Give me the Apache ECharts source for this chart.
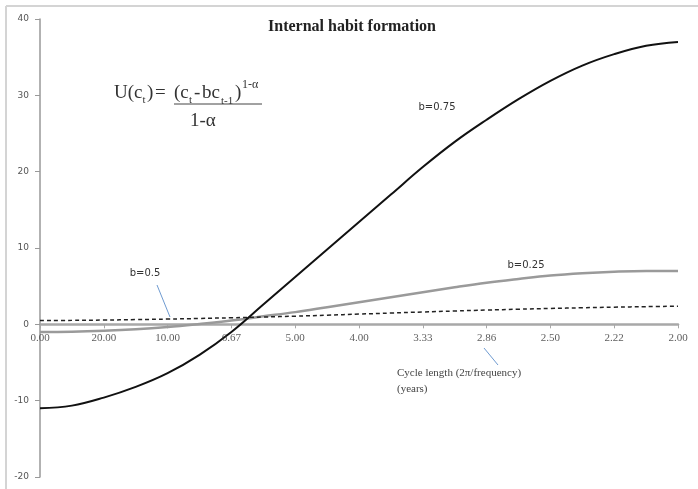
<!DOCTYPE html>
<html>
<head>
<meta charset="utf-8">
<script src="https://cdn.jsdelivr.net/npm/echarts@6/dist/echarts.min.js"></script>
<style>html,body{margin:0;padding:0;background:#fff;}#c{width:698px;height:489px;}</style>
</head>
<body>
<div id="c"></div>
<script>
// x positions: frequency in units of pi/10 (0..10)
var freqIndex = [0,0.5,1,1.5,2,2.5,3,3.5,4,4.5,5,5.5,6,6.5,7,7.5,8,8.5,9,9.5,10];
var tickLabels = ['0.00','20.00','10.00','6.67','5.00','4.00','3.33','2.86','2.50','2.22','2.00'];
var b075 = [-11.0,-10.65,-9.6,-8.2,-6.4,-4.0,-1.0,2.6,6.2,9.8,13.4,17.0,20.6,23.9,26.8,29.5,31.9,33.9,35.4,36.5,37.0];
var b025 = [-1.0,-0.97,-0.85,-0.65,-0.35,0.05,0.5,1.05,1.6,2.25,2.9,3.55,4.2,4.85,5.45,5.95,6.4,6.7,6.9,7.0,7.0];
var b05  = [0.5,0.52,0.56,0.62,0.69,0.77,0.86,0.96,1.07,1.2,1.34,1.48,1.62,1.75,1.87,1.98,2.08,2.17,2.25,2.32,2.38];

function pairs(ys){ return freqIndex.map(function(x,i){ return [x, ys[i]]; }); }

var serif = '"Liberation Serif", "DejaVu Serif", serif';
var sans = '"DejaVu Sans", sans-serif';
var lead = '#6f9bd1';
var ink = '#333';

function t(x, y, s, size, extra){
  var st = { text: s, font: size + 'px ' + serif, fill: ink, textVerticalAlign: 'middle' };
  if (extra) for (var k in extra) st[k] = extra[k];
  return { type: 'text', x: x, y: y, style: st };
}

var chart = echarts.init(document.getElementById('c'));
chart.setOption({
  animation: false,
  backgroundColor: '#fff',
  grid: { left: 40, right: 20, top: 19, bottom: 12, containLabel: false },
  xAxis: {
    type: 'value', min: 0, max: 10, interval: 1,
    axisLine: { onZero: true, lineStyle: { color: '#a8a8a8', width: 2.5 } },
    axisTick: { show: true, length: 4, lineStyle: { color: '#a8a8a8', width: 1 } },
    axisLabel: { show: false },
    splitLine: { show: false }
  },
  yAxis: {
    type: 'value', min: -20, max: 40, interval: 10,
    axisLine: { show: true, lineStyle: { color: '#999', width: 1.5 } },
    axisTick: { show: true, length: 5, lineStyle: { color: '#999' } },
    axisLabel: { margin: 11, color: '#555', fontFamily: sans, fontSize: 9 },
    splitLine: { show: false }
  },
  series: [
    { name: 'b=0.75', type: 'line', data: pairs(b075), smooth: 0.4, symbol: 'none',
      lineStyle: { color: '#111', width: 2 }, z: 5 },
    { name: 'b=0.25', type: 'line', data: pairs(b025), smooth: 0.4, symbol: 'none',
      lineStyle: { color: '#9a9a9a', width: 2.5 }, z: 3 },
    { name: 'b=0.5', type: 'line', data: pairs(b05), smooth: 0.4, symbol: 'none',
      lineStyle: { color: '#222', width: 1.5, type: [4, 3] }, z: 4 },
    { name: 'ticks', type: 'scatter', silent: true, symbolSize: 1,
      itemStyle: { color: 'rgba(0,0,0,0)' },
      data: tickLabels.map(function(s, i){ return [i, 0, s]; }),
      label: { show: true, position: 'bottom', distance: 8, color: ink, fontFamily: serif, fontSize: 11,
        formatter: function(p){ return p.value[2]; } }, labelLayout: { hideOverlap: false }, z: 6 }
  ],
  graphic: [
    { type: 'line', shape: { x1: 6, y1: 6, x2: 698, y2: 6 }, style: { stroke: '#d4d4d4', lineWidth: 2 } },
    { type: 'line', shape: { x1: 6, y1: 6, x2: 6, y2: 489 }, style: { stroke: '#d4d4d4', lineWidth: 2 } },
    { type: 'text', x: 352, y: 27, style: { text: 'Internal habit formation', font: 'bold 16px ' + serif, fill: '#222', textAlign: 'center', textVerticalAlign: 'middle' } },
    // formula
    t(114, 93, 'U(c', 19),
    t(142.5, 100, 't', 11),
    t(147, 93, ')', 19),
    t(155, 93, '=', 19),
    t(174, 93, '(c', 19),
    t(189, 100, 't', 11),
    t(194, 93, '-', 19),
    t(202, 93, 'bc', 19),
    t(221, 101, 't-1', 11),
    t(235, 93, ')', 19),
    t(242, 85, '1-α', 12),
    { type: 'line', shape: { x1: 174, y1: 104, x2: 262, y2: 104 }, style: { stroke: '#444', lineWidth: 1 } },
    t(190, 121, '1-α', 19),
    // series annotations
    { type: 'text', x: 437, y: 107, style: { text: 'b=0.75', font: '10px ' + sans, fill: ink, textAlign: 'center', textVerticalAlign: 'middle' } },
    { type: 'text', x: 526, y: 265, style: { text: 'b=0.25', font: '10px ' + sans, fill: ink, textAlign: 'center', textVerticalAlign: 'middle' } },
    { type: 'text', x: 145, y: 273, style: { text: 'b=0.5', font: '10px ' + sans, fill: ink, textAlign: 'center', textVerticalAlign: 'middle' } },
    { type: 'line', shape: { x1: 157, y1: 285, x2: 170, y2: 317 }, style: { stroke: lead, lineWidth: 1 } },
    // axis title
    { type: 'line', shape: { x1: 484, y1: 348, x2: 498, y2: 365 }, style: { stroke: lead, lineWidth: 1 } },
    t(397, 373, 'Cycle length (2π/frequency)', 11, { fill: '#444' }),
    t(397, 389, '(years)', 11, { fill: '#444' })
  ]
});
</script>
</body>
</html>
